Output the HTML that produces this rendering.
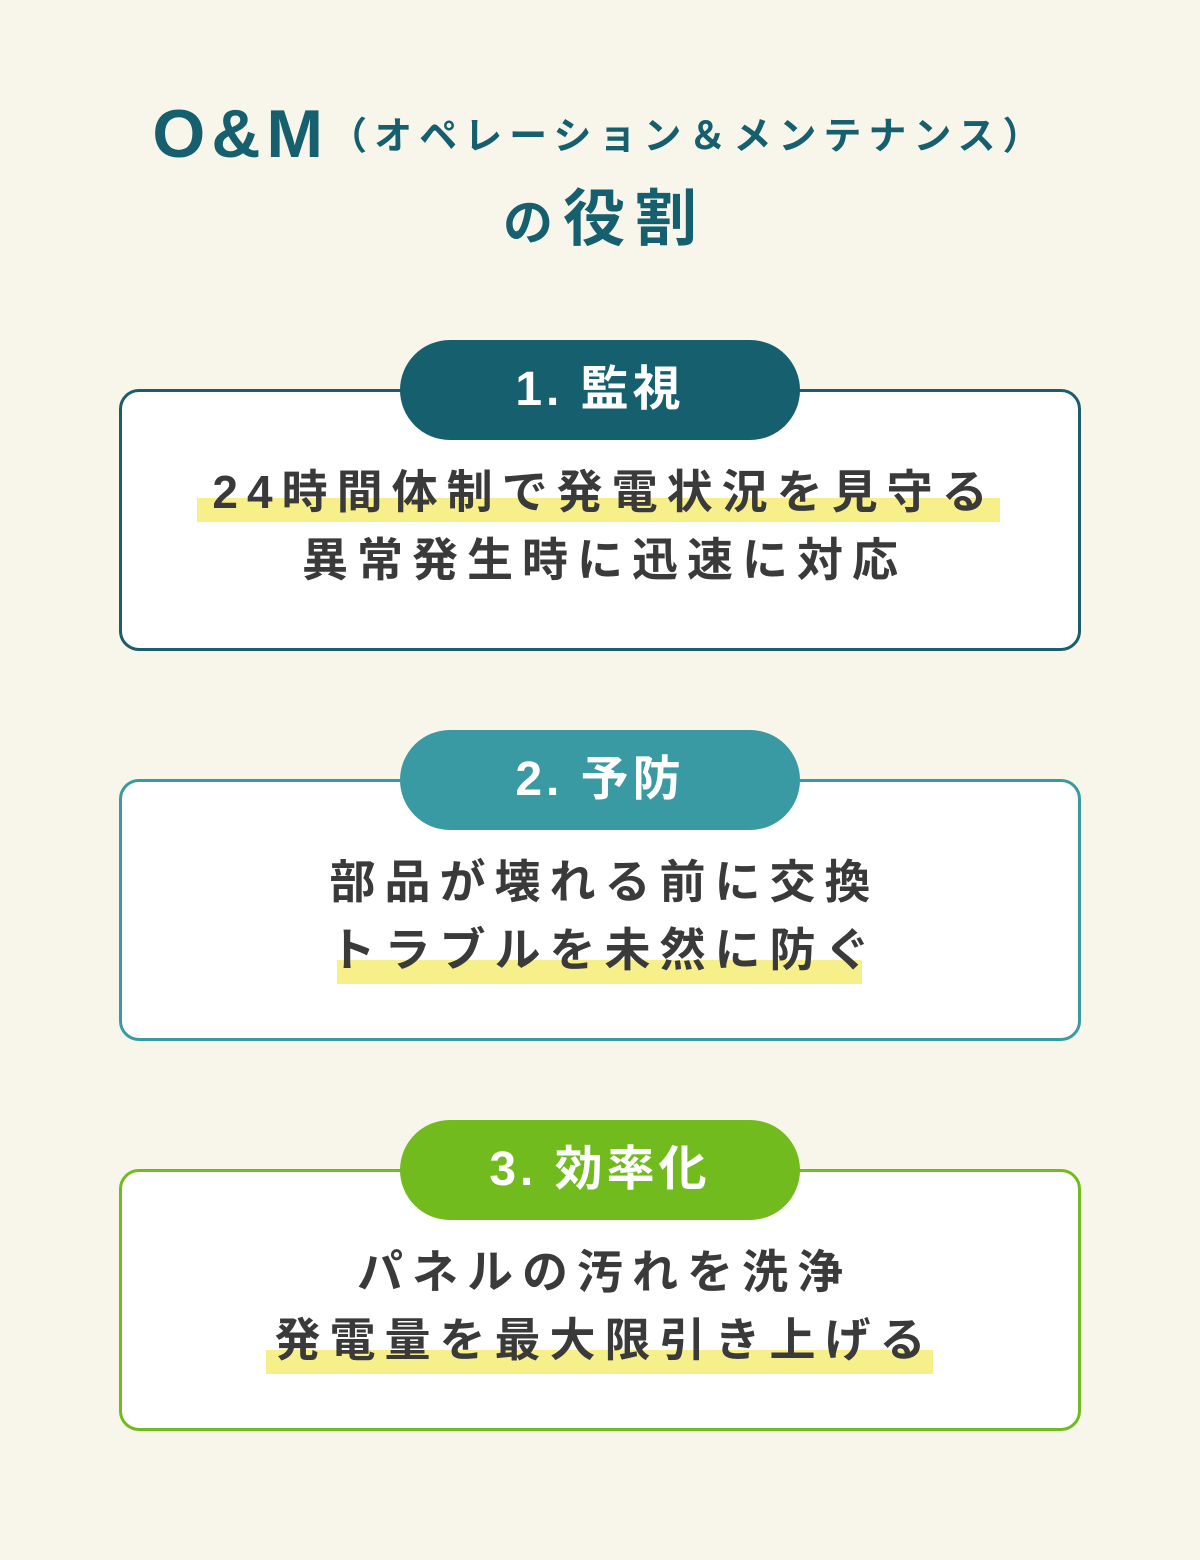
<!DOCTYPE html>
<html><head><meta charset="utf-8"><style>
body{margin:0;width:1200px;height:1560px;background:#f8f6ea;font-family:"Liberation Sans","Noto Sans CJK JP",sans-serif;position:relative;overflow:hidden}
.t1{position:absolute;top:95px;left:0;width:1200px;text-align:center;color:#155f6e;font-weight:bold;white-space:nowrap}
.big{font-size:68px;letter-spacing:6px}
.sm{font-size:38px;letter-spacing:7px;vertical-align:8px}
.t2{position:absolute;top:180px;left:0;width:1200px;text-align:center;color:#155f6e;font-weight:bold;font-size:62px;letter-spacing:10px;padding-left:10px;box-sizing:border-box;line-height:80px}
.t2 .no{font-size:50px}
.box{position:absolute;left:119px;width:956px;height:256px;border:3px solid;border-radius:20px;background:#fff}
.pill{position:absolute;left:400px;width:400px;height:100px;border-radius:50px;color:#fff;font-weight:bold;font-size:48px;letter-spacing:4px;text-align:center;line-height:100px}
.line{position:absolute;left:0;width:1200px;text-align:center;font-weight:bold;font-size:46px;letter-spacing:9px;padding-left:9px;box-sizing:border-box;color:#3a3a3a;line-height:60px;white-space:nowrap}
.hl{position:absolute;background:#f7f08a;height:24px}
</style></head><body>
<div class="t1"><span class="big">O&amp;M</span><span class="sm">（オペレーション＆メンテナンス）</span></div>
<div class="t2"><span class="no">の</span>役割</div>

<div class="box" style="top:389px;border-color:#1a5e6e"></div>
<div class="pill" style="top:340px;background:#155f6e">1. 監視</div>
<div class="hl" style="left:197px;width:803px;top:498px"></div>
<div class="line" style="top:462px">24時間体制で発電状況を見守る</div>
<div class="line" style="top:530px">異常発生時に迅速に対応</div>

<div class="box" style="top:779px;border-color:#3a9aa3"></div>
<div class="pill" style="top:730px;background:#3a9aa3">2. 予防</div>
<div class="line" style="top:852px">部品が壊れる前に交換</div>
<div class="hl" style="left:337px;width:525px;top:960px"></div>
<div class="line" style="top:920px">トラブルを未然に防ぐ</div>

<div class="box" style="top:1169px;border-color:#72bb1e"></div>
<div class="pill" style="top:1120px;background:#72bb1e">3. 効率化</div>
<div class="line" style="top:1242px">パネルの汚れを洗浄</div>
<div class="hl" style="left:266px;width:667px;top:1350px"></div>
<div class="line" style="top:1310px">発電量を最大限引き上げる</div>
</body></html>
